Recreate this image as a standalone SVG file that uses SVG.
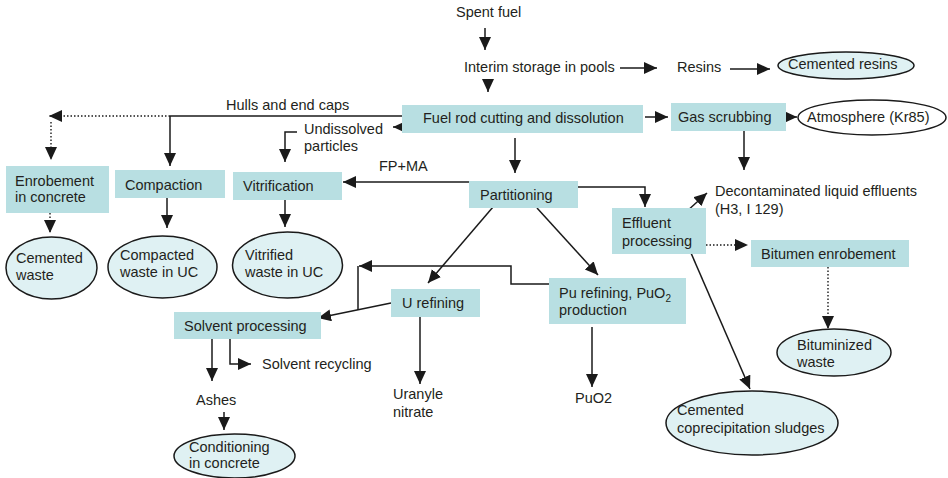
<svg xmlns="http://www.w3.org/2000/svg" width="948" height="478" viewBox="0 0 948 478">
  <style>
    text { font-family: "Liberation Sans", Arial, sans-serif; font-size: 14.5px; fill: #231f20; }
    .box { fill: #b8dfe2; }
    .oval { fill: #dff1f3; stroke: #1a1a1a; stroke-width: 1.5; }
    .oval-w { fill: #ffffff; stroke: #1a1a1a; stroke-width: 1.5; }
    .ln { fill: none; stroke: #1a1a1a; stroke-width: 1.5; }
    .arr { marker-end: url(#head); }
    .dot { stroke-dasharray: 1.5 2; stroke-width: 1.4; }
  </style>
  <defs>
    <marker id="head" markerUnits="userSpaceOnUse" markerWidth="14" markerHeight="13" refX="13" refY="6" orient="auto">
      <path d="M0,0 L13,6 L0,12 z" fill="#1a1a1a"/>
    </marker>
  </defs>

  <!-- connectors -->
  <g id="connectors">
    <path class="ln arr" d="M485,28 V50"/>
    <path class="ln arr" d="M488,79 V92"/>
    <path class="ln arr" d="M620,68 H657"/>
    <path class="ln arr" d="M730,69 H770"/>
    <path class="ln arr" d="M645,117 H668"/>
    <path class="ln arr" d="M780,117 H797"/>
    <!-- hulls and end caps -->
    <path class="ln" d="M402,116 H170"/>
    <path class="ln arr" d="M170,116 V166"/>
    <path class="ln dot arr" d="M170,116 H49"/>
    <path class="ln dot arr" d="M51,122 V160"/>
    <path class="ln arr" d="M406,127 H393"/>
    <!-- undissolved particles -->
    <path class="ln arr" d="M297,132 H285 V162"/>
    <path class="ln arr" d="M515,138 V173"/>
    <path class="ln arr" d="M744,131 V170"/>
    <path class="ln arr" d="M469,182 H343"/>
    <path class="ln arr" d="M578,187 H645 V207"/>
    <path class="ln arr" d="M686,212 L707,193"/>
    <path class="ln dot arr" d="M692,245 H748"/>
    <path class="ln dot arr" d="M828,267 V329"/>
    <path class="ln arr" d="M691,253 L750,389"/>
    <path class="ln arr" d="M493,207 L428,283"/>
    <path class="ln arr" d="M537,208 L598,275"/>
    <path class="ln arr" d="M549,284 H511 V266 H359"/>
    <path class="ln" d="M358,266 V310"/>
    <path class="ln arr" d="M391,303 L318,318"/>
    <path class="ln dot arr" d="M50,213 V233"/>
    <path class="ln arr" d="M167,198 V228"/>
    <path class="ln arr" d="M285,200 V227"/>
    <path class="ln arr" d="M212,339 V381"/>
    <path class="ln arr" d="M230,339 V364 H251"/>
    <path class="ln arr" d="M224,412 V430"/>
    <path class="ln arr" d="M420,317 V384"/>
    <path class="ln arr" d="M592,327 V387"/>
  </g>

  <!-- plain labels -->
  <g id="spent-fuel"><text x="456" y="17">Spent fuel</text></g>
  <g id="interim-storage"><text x="464" y="72">Interim storage in pools</text></g>
  <g id="resins"><text x="677" y="72">Resins</text></g>
  <g id="hulls-label"><text x="226" y="110">Hulls and end caps</text></g>
  <g id="undissolved-label"><text x="304" y="134">Undissolved</text><text x="304" y="151">particles</text></g>
  <g id="fpma-label"><text x="379" y="171">FP+MA</text></g>
  <g id="decontaminated"><text x="715" y="196">Decontaminated liquid effluents</text><text x="715" y="214">(H3, I 129)</text></g>
  <g id="solvent-recycling"><text x="262" y="369">Solvent recycling</text></g>
  <g id="ashes"><text x="196" y="405">Ashes</text></g>
  <g id="uranyle-nitrate"><text x="393" y="399">Uranyle</text><text x="393" y="417">nitrate</text></g>
  <g id="puo2"><text x="575" y="403">PuO2</text></g>

  <!-- process boxes -->
  <g id="fuel-rod"><rect class="box" x="402" y="105" width="241" height="28"/><text x="423" y="123">Fuel rod cutting and dissolution</text></g>
  <g id="gas-scrubbing"><rect class="box" x="671" y="103" width="115" height="28"/><text x="678" y="122">Gas scrubbing</text></g>
  <g id="enrobement"><rect class="box" x="6" y="166" width="103" height="47"/><text x="15" y="186">Enrobement</text><text x="15" y="202">in concrete</text></g>
  <g id="compaction"><rect class="box" x="115" y="170" width="110" height="28"/><text x="125" y="190">Compaction</text></g>
  <g id="vitrification"><rect class="box" x="233" y="172" width="109" height="28"/><text x="243" y="191">Vitrification</text></g>
  <g id="partitioning"><rect class="box" x="469" y="181" width="109" height="27"/><text x="480" y="200">Partitioning</text></g>
  <g id="effluent-processing"><rect class="box" x="612" y="208" width="94" height="46"/><text x="622" y="228">Effluent</text><text x="622" y="246">processing</text></g>
  <g id="bitumen-enrobement"><rect class="box" x="751" y="240" width="158" height="27"/><text x="761" y="259">Bitumen enrobement</text></g>
  <g id="pu-refining"><rect class="box" x="549" y="278" width="137" height="46"/><text x="559" y="298">Pu refining, PuO<tspan font-size="10" dy="4">2</tspan></text><text x="559" y="315">production</text></g>
  <g id="u-refining"><rect class="box" x="391" y="289" width="89" height="28"/><text x="402" y="308">U refining</text></g>
  <g id="solvent-processing"><rect class="box" x="174" y="312" width="147" height="27"/><text x="184" y="331">Solvent processing</text></g>

  <!-- waste forms -->
  <g id="cemented-resins"><ellipse class="oval" cx="846" cy="65.5" rx="68" ry="13.5"/><text x="788" y="69">Cemented resins</text></g>
  <g id="atmosphere"><ellipse class="oval-w" cx="872" cy="117.5" rx="74" ry="17.5"/><text x="807" y="122">Atmosphere (Kr85)</text></g>
  <g id="cemented-waste"><ellipse class="oval" cx="51.5" cy="268" rx="45.5" ry="31"/><text x="16" y="263">Cemented</text><text x="16" y="280">waste</text></g>
  <g id="compacted-waste"><ellipse class="oval" cx="162.5" cy="267" rx="54.5" ry="31"/><text x="120" y="260">Compacted</text><text x="120" y="277">waste in UC</text></g>
  <g id="vitrified-waste"><ellipse class="oval" cx="287.5" cy="265" rx="55" ry="33"/><text x="245" y="260">Vitrified</text><text x="245" y="277">waste in UC</text></g>
  <g id="bituminized-waste"><ellipse class="oval" cx="834" cy="352.5" rx="57" ry="23.5"/><text x="797" y="350">Bituminized</text><text x="797" y="367">waste</text></g>
  <g id="coprecipitation-sludges"><ellipse class="oval" cx="752" cy="423" rx="86" ry="32"/><text x="677" y="415">Cemented</text><text x="677" y="433">coprecipitation sludges</text></g>
  <g id="conditioning"><ellipse class="oval" cx="234.5" cy="456" rx="60.5" ry="22"/><text x="189" y="452">Conditioning</text><text x="189" y="468">in concrete</text></g>
</svg>
